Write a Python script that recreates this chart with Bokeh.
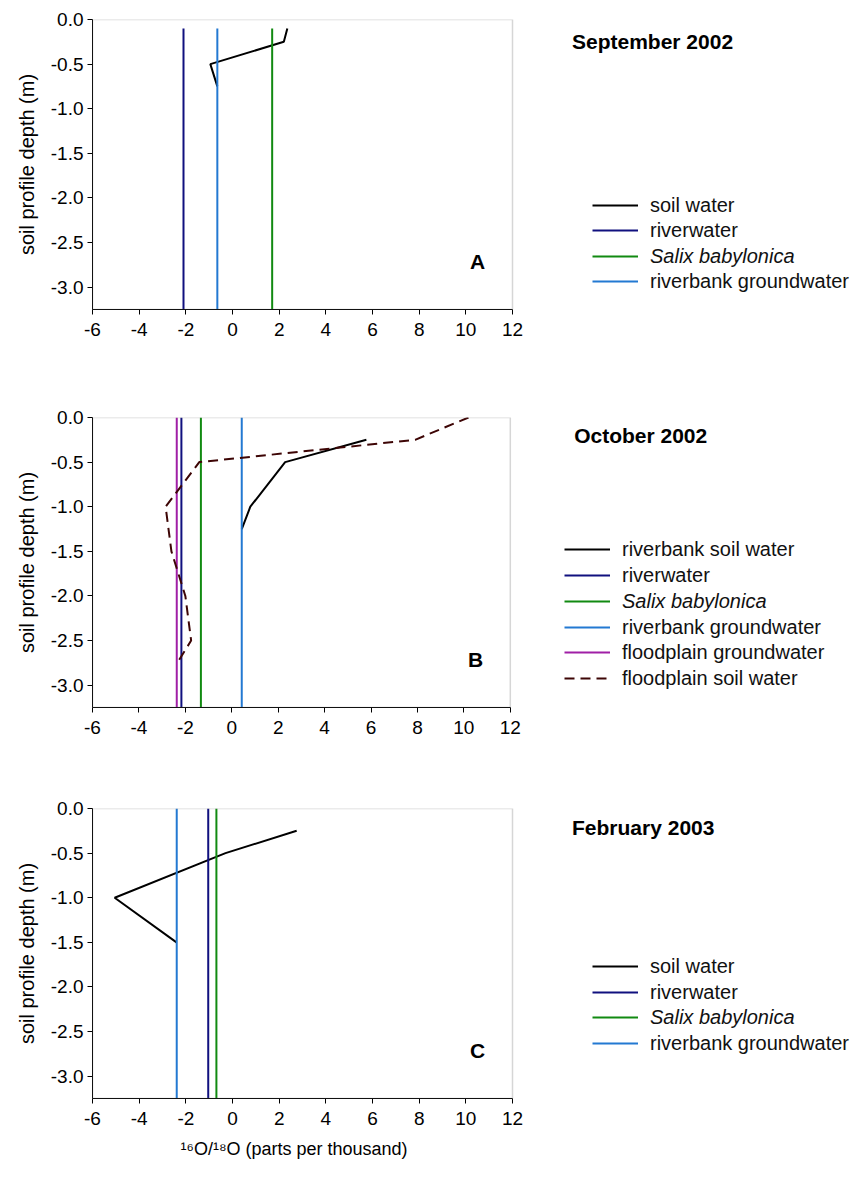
from bokeh.plotting import figure
from bokeh.layouts import column
from bokeh.models import (Range1d, FixedTicker, Legend, LegendItem, Label, Title,
                          NumeralTickFormatter, BoxAnnotation)
from bokeh.embed import file_html
from bokeh.resources import INLINE

FONT = "Liberation Sans"

x_ticks = [-6, -4, -2, 0, 2, 4, 6, 8, 10, 12]
y_ticks = [0.0, -0.5, -1.0, -1.5, -2.0, -2.5, -3.0]
x_min, x_max = -6, 12
depth_bottom = -3.25
x_label = "¹⁶O/¹⁸O (parts per thousand)"
y_label = "soil profile depth (m)"

# ---- Panel A: September 2002 ----
a_title = "September 2002"
a_soil_x = [2.35, 2.2, -0.95, -0.65]
a_soil_depth = [-0.1, -0.25, -0.5, -0.75]
a_riverwater = -2.1
a_salix = 1.7
a_rb_groundwater = -0.65
a_vline_top = -0.1

# ---- Panel B: October 2002 ----
b_title = "October 2002"
b_rb_soil_x = [5.8, 2.3, 0.8, 0.43]
b_rb_soil_depth = [-0.25, -0.5, -1.0, -1.25]
b_riverwater = -2.17
b_salix = -1.33
b_rb_groundwater = 0.43
b_fp_groundwater = -2.37
b_fp_soil_x = [10.2, 7.9, -1.4, -2.85, -2.6, -2.0, -1.75, -2.35]
b_fp_soil_depth = [0.0, -0.25, -0.5, -1.0, -1.5, -2.0, -2.5, -2.75]
b_vline_top = 0.0

# ---- Panel C: February 2003 ----
c_title = "February 2003"
c_soil_x = [2.75, -0.3, -5.05, -2.4]
c_soil_depth = [-0.25, -0.5, -1.0, -1.5]
c_riverwater = -1.04
c_salix = -0.69
c_rb_groundwater = -2.39
c_vline_top = 0.0

C_SOIL = "#000000"
C_RIVER = "#10107f"
C_SALIX = "#118a11"
C_RBGW = "#2379d2"
C_FPGW = "#a01fa6"
C_FPSOIL = "#3d0505"
LW = 2
PX_PER_UNIT = 420 / 18.0
W = 851


def make_fig(height, top, bottom, left, with_xlabel=False):
    # frame extends to the right edge so titles and legends are not clipped;
    # the x axis and the box are bounded to the -6..12 data window
    right_val = x_min + (W - left) / PX_PER_UNIT
    p = figure(width=W, height=height,
               x_range=Range1d(x_min, right_val), y_range=Range1d(depth_bottom, 0.0),
               output_backend="svg", toolbar_location=None,
               min_border_left=left, min_border_right=0,
               min_border_top=top, min_border_bottom=bottom)
    p.xgrid.visible = False
    p.ygrid.visible = False
    p.outline_line_color = None
    p.background_fill_color = "white"
    p.border_fill_color = "white"
    p.xaxis.ticker = FixedTicker(ticks=x_ticks)
    p.xaxis.formatter = NumeralTickFormatter(format="0")
    p.xaxis.bounds = (x_min, x_max)
    p.yaxis.ticker = FixedTicker(ticks=y_ticks)
    p.yaxis.formatter = NumeralTickFormatter(format="0.0")
    for ax in (p.xaxis[0], p.yaxis[0]):
        ax.major_tick_in = 0
        ax.major_tick_out = 5
        ax.minor_tick_line_color = None
        ax.axis_line_color = "black"
        ax.major_tick_line_color = "black"
        ax.major_label_text_font = FONT
        ax.major_label_text_font_size = "19px"
        ax.major_label_text_color = "black"
        ax.axis_label_text_font = FONT
        ax.axis_label_text_font_style = "normal"
        ax.axis_label_text_font_size = "20px"
        ax.axis_label_text_color = "black"
    p.xaxis.major_label_standoff = 8
    p.yaxis.major_label_standoff = 4
    p.yaxis.axis_label = y_label
    p.yaxis.axis_label_standoff = 10
    if with_xlabel:
        p.add_layout(Title(text=x_label, align="left", offset=88,
                           text_font=FONT, text_font_size="18px",
                           text_font_style="normal", text_color="black",
                           standoff=18), "below")
    p.add_layout(BoxAnnotation(left=x_min, right=x_max, bottom=depth_bottom, top=0.0,
                               fill_alpha=0, line_color="#777777", line_width=1.5))
    return p


def vline(p, xval, top, color):
    return p.line([xval, xval], [top, depth_bottom], line_color=color, line_width=LW)


def add_legend(p, entries, vx, rows_vy):
    for (label, rend, italic), vy in zip(entries, rows_vy):
        lg = Legend(items=[LegendItem(label=label, renderers=[rend])],
                    location=(vx, vy), padding=0, margin=0, spacing=0,
                    glyph_width=46, glyph_height=24, label_height=24,
                    label_standoff=12, border_line_alpha=0,
                    background_fill_alpha=0,
                    label_text_font=FONT, label_text_font_size="20px",
                    label_text_color="#111111",
                    label_text_font_style="italic" if italic else "normal")
        p.add_layout(lg)


def add_texts(p, title, letter, title_x, title_y):
    p.add_layout(Label(x=title_x, y=title_y, text=title, text_font=FONT,
                       text_font_size="21px", text_font_style="bold",
                       text_baseline="middle", text_align="left", text_color="black"))
    p.add_layout(Label(x=10.5, y=-2.71, text=letter, text_font=FONT,
                       text_font_size="21px", text_font_style="bold",
                       text_baseline="middle", text_align="center", text_color="black"))


# Panel A
pA = make_fig(395, 19, 86, 92)
rA_soil = pA.line(a_soil_x, a_soil_depth, line_color=C_SOIL, line_width=LW)
rA_river = vline(pA, a_riverwater, a_vline_top, C_RIVER)
rA_salix = vline(pA, a_salix, a_vline_top, C_SALIX)
rA_rbgw = vline(pA, a_rb_groundwater, a_vline_top, C_RBGW)
add_legend(pA, [("soil water", rA_soil, False), ("riverwater", rA_river, False),
                ("Salix babylonica", rA_salix, True),
                ("riverbank groundwater", rA_rbgw, False)],
           500, [92, 67, 41, 16])
add_texts(pA, a_title, "A", 14.55, -0.25)

# Panel B
pB = make_fig(390, 22, 78, 88)
rB_soil = pB.line(b_rb_soil_x, b_rb_soil_depth, line_color=C_SOIL, line_width=LW)
rB_river = vline(pB, b_riverwater, b_vline_top, C_RIVER)
rB_salix = vline(pB, b_salix, b_vline_top, C_SALIX)
rB_rbgw = vline(pB, b_rb_groundwater, b_vline_top, C_RBGW)
rB_fpgw = vline(pB, b_fp_groundwater, b_vline_top, C_FPGW)
rB_fpsoil = pB.line(b_fp_soil_x, b_fp_soil_depth, line_color=C_FPSOIL,
                    line_width=LW, line_dash="10 6")
add_legend(pB, [("riverbank soil water", rB_soil, False), ("riverwater", rB_river, False),
                ("Salix babylonica", rB_salix, True),
                ("riverbank groundwater", rB_rbgw, False),
                ("floodplain groundwater", rB_fpgw, False),
                ("floodplain soil water", rB_fpsoil, False)],
           472, [146, 120, 94, 68, 43, 17])
add_texts(pB, b_title, "B", 14.75, -0.2)

# Panel C
pC = make_fig(393, 23, 80, 92, with_xlabel=True)
rC_soil = pC.line(c_soil_x, c_soil_depth, line_color=C_SOIL, line_width=LW)
rC_rbgw = vline(pC, c_rb_groundwater, c_vline_top, C_RBGW)
rC_river = vline(pC, c_riverwater, c_vline_top, C_RIVER)
rC_salix = vline(pC, c_salix, c_vline_top, C_SALIX)
add_legend(pC, [("soil water", rC_soil, False), ("riverwater", rC_river, False),
                ("Salix babylonica", rC_salix, True),
                ("riverbank groundwater", rC_rbgw, False)],
           500, [120, 94, 69, 43])
add_texts(pC, c_title, "C", 14.55, -0.21)

layout = column(pA, pB, pC, spacing=0)
open("out.html", "w").write(file_html(layout, INLINE))
